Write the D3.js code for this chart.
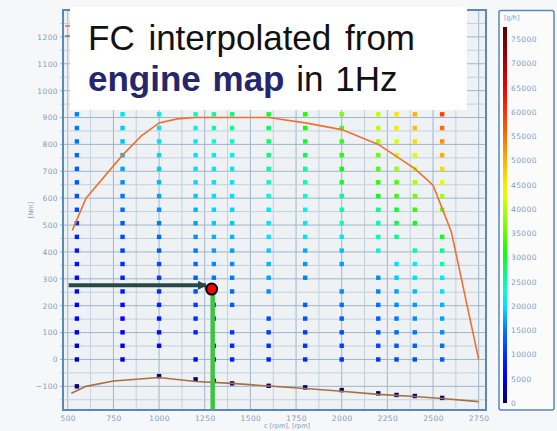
<!DOCTYPE html>
<meta charset="utf-8">
<script src="https://d3js.org/d3.v7.min.js"></script>
<style>
  body { margin: 0; background: #f6f7f8; }
  svg text { font-family: "DejaVu Sans", sans-serif; }
</style>
<div id="chart"></div>
<script>
// engine map grid: speed columns and torque rows (top row first)
var rpmCols = [550, 800, 1000, 1200, 1300, 1400, 1600, 1800, 2000, 2200, 2300, 2400, 2550];
var torqueRows = [912, 861, 811, 760, 709, 659, 608, 557, 507, 456, 405, 355, 304, 253, 203, 152, 101, 51, 0];

// fuel consumption [g/h] per column, same order as torqueRows, null = no point
var fc550  = [15500, 15000, 14500, 14000, 13500, 13000, 12500, 11500, 10000, 8500, 8000, 7500, 7000, 6500, 6000, 5500, 5000, 4500, 4000];
var fc800  = [20000, 19000, 18500, 18000, 17000, 16000, 15000, 14000, 13000, 12000, 11000, 10000, 9000, 8000, 7000, 6000, 5500, 5000, 4000];
var fc1000 = [21000, 20500, 20000, 19500, 19000, 18000, 17000, 16000, 15000, 14000, 13000, 12000, 11000, 10000, 9000, 8000, 7000, 6000, null];
var fc1200 = [24000, 22000, 21000, 20500, 20000, 19500, 19000, 18000, 17000, 16000, 15000, 14000, 13000, 12000, 11000, 10000, 9000, null, 7000];
var fc1300 = [25000, 24000, 23000, 21500, 21000, 20500, 20000, 19500, 19000, 18000, 17000, 16000, 15000, 14000, 12500, 11500, null, 9500, 8500];
var fc1400 = [26500, 25000, 23500, 22000, 21000, 20500, 20000, 19500, 19000, 18000, 17000, 16000, 15000, 14000, 13000, null, 10500, 9500, 8500];
var fc1600 = [29000, 28000, 27500, 26500, 25000, 23500, 22000, 21000, 20500, 20000, 19000, 18000, 17000, 16000, null, 12000, 11000, 10000, 9000];
var fc1800 = [31500, 31000, 29500, 28000, 26000, 24000, 23000, 21500, 21000, 20000, 17500, 16500, 15500, null, 13500, 12500, 11000, 10500, 9500];
var fc2000 = [37000, 34000, 33000, 32000, 30500, 29500, 26000, 24500, 23000, 21000, 18500, 17000, null, 16000, 14500, 13000, 12000, 11000, 10000];
var fc2200 = [41000, 40500, 39000, 35500, 34000, 32500, 30500, 26000, 24500, 24000, 21500, null, 16000, 15500, 14500, 13500, 12500, 11500, 10500];
var fc2300 = [45500, 45000, 42500, 41500, 38500, 34000, 33000, 29500, 28500, 26000, null, 20000, 19000, 17000, 16000, 15000, 14000, 12500, 11500];
var fc2400 = [50000, 49000, 46500, 43500, 41500, 39500, 36000, 32500, 29500, null, 25000, 22000, 20500, 18500, 17000, 16000, 15000, 13500, 12000];
var fc2550 = [58500, 55000, 52500, 50000, 46500, 43500, 39500, 36000, null, 29500, 26000, 24500, 21000, 20000, 18000, 17000, 16000, 14500, 13000];
var fcCols = [fc550, fc800, fc1000, fc1200, fc1300, fc1400, fc1600, fc1800, fc2000, fc2200, fc2300, fc2400, fc2550];

// motoring points (one per column, negative torque)
var motorTorque = [-100, null, -62, -74, -80, -89, -98, -104, -114, -126, -132, -136, -143];
var motorFc = [500, null, 800, 800, 800, 700, 600, 600, 500, 500, 500, 500, 500];

// full load curve
var fullRpm = [525, 600, 800, 900, 1000, 1100, 1200, 1600, 1800, 2000, 2200, 2400, 2500, 2600, 2750];
var fullTorque = [480, 600, 760, 830, 880, 895, 900, 900, 880, 855, 800, 710, 648, 475, 0];

// motoring curve
var motRpm = [520, 600, 750, 1000, 1200, 1400, 1600, 1800, 2000, 2200, 2400, 2550, 2750];
var motTorque = [-126, -100, -80, -67, -82, -89, -99, -108, -118, -130, -138, -145, -157];

// operating point annotation
var opRpm = 1288, opTorque = 262, arrowTorque = 276, arrowFrom = 505, arrowTo = 1257;

var xTicks = [500, 750, 1000, 1250, 1500, 1750, 2000, 2250, 2500, 2750];
var yTicks = [-100, 0, 100, 200, 300, 400, 500, 600, 700, 800, 900, 1000, 1100, 1200];
var cbTicks = [0, 5000, 10000, 15000, 20000, 25000, 30000, 35000, 40000, 45000, 50000, 55000, 60000, 65000, 70000, 75000];

// colour map stops
var cStops = [0, 3000, 6000, 10000, 15000, 20000, 23000, 27000, 31000, 37000, 43000, 46000, 50000, 55000, 60000, 65000, 70000, 77500];
var cColors = ["#000070", "#0000c0", "#0000ff", "#0030ff", "#0078ff", "#00e0ff", "#00ffd0", "#00ff70", "#10ff00", "#80ff00", "#e0ff00", "#ffe000", "#ffb000", "#ff7000", "#ff3000", "#f00000", "#b00000", "#580000"];

var W = 557, H = 431;
var svg = d3.select("#chart").append("svg").attr("width", W).attr("height", H);

var x = d3.scaleLinear().domain([474, 2790]).range([63, 486]);
var y = d3.scaleLinear().domain([-188, 1300]).range([410, 10]);
var color = d3.scaleLinear().domain(cStops).range(cColors);

var axisCol = "#5a88b8", labelCol = "#7f9cc4";

// plot background
svg.append("rect")
  .attr("x", x.range()[0]).attr("y", y.range()[1])
  .attr("width", x.range()[1] - x.range()[0]).attr("height", y.range()[0] - y.range()[1])
  .attr("fill", "#eef2f5");

// grid
var grid = svg.append("g");
grid.selectAll(".vg").data(d3.range(500, 2790, 125)).enter().append("line")
  .attr("x1", d => x(d)).attr("x2", d => x(d))
  .attr("y1", y.range()[0]).attr("y2", y.range()[1])
  .attr("stroke", d => d % 250 == 0 ? "#9fb5cb" : "#c3d1de").attr("stroke-width", 1);
grid.selectAll(".hg").data(d3.range(-150, 1300, 50)).enter().append("line")
  .attr("x1", x.range()[0] - 3).attr("x2", x.range()[1])
  .attr("y1", d => y(d)).attr("y2", d => y(d))
  .attr("stroke", d => d % 100 == 0 ? "#9fb5cb" : "#c3d1de").attr("stroke-width", 1);

// map points
var pts = [];
rpmCols.forEach(function(r, i) {
  torqueRows.forEach(function(t, j) {
    if (fcCols[i][j] != null) pts.push({rpm: r, tq: t, fc: fcCols[i][j]});
  });
  if (motorTorque[i] != null) pts.push({rpm: r, tq: motorTorque[i], fc: motorFc[i]});
});
var s = 4.4;
svg.append("g").selectAll("rect").data(pts).enter().append("rect")
  .attr("x", d => x(d.rpm) - s / 2).attr("y", d => y(d.tq) - s / 2)
  .attr("width", s).attr("height", s)
  .attr("fill", d => color(d.fc));

// curves
var fullData = fullRpm.map((r, i) => [r, fullTorque[i]]);
var motData = motRpm.map((r, i) => [r, motTorque[i]]);
var line = d3.line().x(d => x(d[0])).y(d => y(d[1]));
svg.append("path").datum(fullData).attr("d", line)
  .attr("fill", "none").attr("stroke", "#f07030").attr("stroke-width", 1.6);
svg.append("path").datum(motData).attr("d", line)
  .attr("fill", "none").attr("stroke", "#a8703e").attr("stroke-width", 1.6);

// legend samples (mostly hidden under the text box)
svg.append("line").attr("x1", 65).attr("x2", 80).attr("y1", 26).attr("y2", 26)
  .attr("stroke", "#f07030").attr("stroke-width", 1.5);
svg.append("line").attr("x1", 65).attr("x2", 80).attr("y1", 36).attr("y2", 36)
  .attr("stroke", "#a8703e").attr("stroke-width", 1.5);

// frame
svg.append("rect")
  .attr("x", x.range()[0]).attr("y", y.range()[1])
  .attr("width", x.range()[1] - x.range()[0]).attr("height", y.range()[0] - y.range()[1])
  .attr("fill", "none").attr("stroke", axisCol).attr("stroke-width", 2);

// axes
var xAxis = svg.append("g").attr("transform", "translate(0," + y.range()[0] + ")")
  .call(d3.axisBottom(x).tickValues(xTicks).tickFormat(d3.format("d")).tickSize(0).tickPadding(6));
var yAxis = svg.append("g").attr("transform", "translate(" + x.range()[0] + ",0)")
  .call(d3.axisLeft(y).tickValues(yTicks).tickFormat(d3.format("d")).tickSize(0).tickPadding(5));
[xAxis, yAxis].forEach(function(a) {
  a.select(".domain").remove();
  a.selectAll("text").attr("fill", labelCol).style("font-size", "7.5px").style("letter-spacing", "0.4px");
});

svg.append("text").attr("x", 287).attr("y", 428).attr("text-anchor", "middle")
  .attr("fill", labelCol).style("font-size", "6.5px").text("c [rpm], [rpm]");
svg.append("text").attr("transform", "translate(33,210) rotate(-90)").attr("text-anchor", "middle")
  .attr("fill", labelCol).style("font-size", "6.5px").text("[Nm]");

// annotation: arrow, green line, operating point
var defs = svg.append("defs");
defs.append("marker").attr("id", "ah").attr("viewBox", "0 0 10 10")
  .attr("refX", 9).attr("refY", 5).attr("markerWidth", 2.2).attr("markerHeight", 2.4)
  .attr("orient", "auto")
  .append("path").attr("d", "M0,0L10,5L0,10Z").attr("fill", "#284848");
svg.append("line")
  .attr("x1", x(arrowFrom)).attr("x2", x(arrowTo))
  .attr("y1", y(arrowTorque)).attr("y2", y(arrowTorque))
  .attr("stroke", "#284848").attr("stroke-width", 4).attr("marker-end", "url(#ah)");
svg.append("line")
  .attr("x1", x(opRpm) + 1).attr("x2", x(opRpm) + 1)
  .attr("y1", y(opTorque)).attr("y2", y.range()[0])
  .attr("stroke", "#3fc43f").attr("stroke-width", 4.5);
svg.append("circle").attr("cx", x(opRpm)).attr("cy", y(opTorque)).attr("r", 5.5)
  .attr("fill", "#ff0000").attr("stroke", "#000").attr("stroke-width", 2);

// text box
svg.append("rect").attr("x", 70).attr("y", 7).attr("width", 397).attr("height", 103).attr("fill", "#fff");
var t1 = svg.append("text").attr("x", 88).attr("y", 50)
  .style("font-family", "'Liberation Sans', Arial, sans-serif").style("font-size", "35px")
  .attr("fill", "#111").attr("word-spacing", "4px").text("FC interpolated from");
var t2 = svg.append("text").attr("x", 88).attr("y", 91)
  .style("font-family", "'Liberation Sans', Arial, sans-serif").style("font-size", "35px")
  .attr("word-spacing", "2px");
t2.append("tspan").attr("fill", "#25266e").attr("font-weight", "bold").text("engine map");
t2.append("tspan").attr("fill", "#111").text(" in 1Hz");

// colour bar panel
svg.append("rect").attr("x", 499).attr("y", 10.5).attr("width", 55).attr("height", 399.5).attr("rx", 2)
  .attr("fill", "#fbfbfc").attr("stroke", axisCol).attr("stroke-width", 1.5);
var cy = d3.scaleLinear().domain([0, 77500]).range([403, 27]);
var grad = defs.append("linearGradient").attr("id", "cb")
  .attr("x1", 0).attr("y1", 1).attr("x2", 0).attr("y2", 0);
grad.selectAll("stop").data(cStops).enter().append("stop")
  .attr("offset", d => d / 77500).attr("stop-color", d => color(d));
svg.append("rect").attr("x", 503).attr("y", cy(77500)).attr("width", 4)
  .attr("height", cy(0) - cy(77500)).attr("fill", "url(#cb)");
var cAxis = svg.append("g").attr("transform", "translate(507,0)")
  .call(d3.axisRight(cy).tickValues(cbTicks).tickFormat(d3.format("d")).tickSize(0).tickPadding(4));
cAxis.select(".domain").remove();
cAxis.selectAll("text").attr("fill", labelCol).style("font-size", "7.5px").style("letter-spacing", "0.4px");
svg.append("text").attr("x", 504).attr("y", 20).attr("fill", labelCol)
  .style("font-size", "6.5px").text("[g/h]");
</script>
